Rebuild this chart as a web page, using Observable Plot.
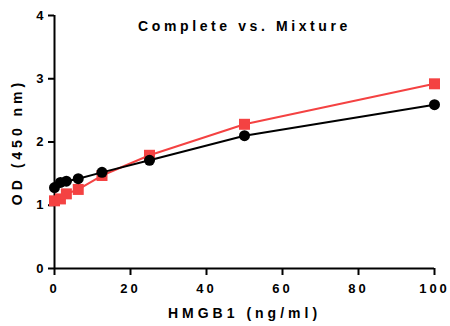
<!DOCTYPE html>
<html>
<head>
<meta charset="utf-8">
<script src="https://cdn.jsdelivr.net/npm/d3@7"></script>
<script src="https://cdn.jsdelivr.net/npm/@observablehq/plot@0.6"></script>
<style>
body { margin: 0; background: #fff; }
svg text { font-family: "Liberation Sans", Arial, sans-serif !important; font-weight: bold; letter-spacing: 4px; font-size: 14px !important; }
svg g[aria-label$="tick label"] text { font-size: 13px !important; letter-spacing: 3px; }
svg g[aria-label="text"] text { letter-spacing: 3.6px; }
</style>
</head>
<body>
<div id="chart"></div>
<script>
const concentrations = [0, 1.5625, 3.125, 6.25, 12.5, 25, 50, 100];
const completeOD = [1.28, 1.36, 1.38, 1.42, 1.52, 1.71, 2.10, 2.59];
const mixtureOD = [1.07, 1.10, 1.18, 1.25, 1.47, 1.79, 2.28, 2.92];
const xTicks = [0, 20, 40, 60, 80, 100];
const yTicks = [0, 1, 2, 3, 4];
const title = "Complete vs. Mixture";

const complete = concentrations.map((x, i) => ({x, y: completeOD[i]}));
const mixture = concentrations.map((x, i) => ({x, y: mixtureOD[i]}));
const red = "#f44242";

const chart = Plot.plot({
  width: 450,
  height: 326,
  marginLeft: 54,
  marginRight: 16,
  marginTop: 15,
  marginBottom: 58,
  style: {background: "#fff", color: "#000"},
  x: {domain: [0, 100]},
  y: {domain: [0, 4]},
  marks: [
    Plot.axisX({ticks: xTicks, tickFormat: d3.format("d"), tickSize: 7, tickPadding: 8, strokeWidth: 2,
      label: "HMGB1 (ng/ml)", labelAnchor: "center", labelOffset: 49, labelArrow: false}),
    Plot.axisY({ticks: yTicks, tickFormat: d3.format("d"), tickSize: 6, tickPadding: 2, strokeWidth: 2,
      label: "OD (450 nm)", labelAnchor: "center", labelOffset: 42, labelArrow: false}),
    Plot.ruleY([0], {strokeWidth: 2}),
    Plot.ruleX([0], {strokeWidth: 2}),
    Plot.line(mixture, {x: "x", y: "y", stroke: red, strokeWidth: 2}),
    Plot.dot(mixture, {x: "x", y: "y", symbol: "square", r: 6.2, fill: red, stroke: "none"}),
    Plot.line(complete, {x: "x", y: "y", stroke: "#000", strokeWidth: 2}),
    Plot.dot(complete, {x: "x", y: "y", symbol: "circle", r: 5.5, fill: "#000", stroke: "none"}),
    Plot.text([title], {frameAnchor: "top", dy: 6, fill: "#000"})
  ]
});
document.getElementById("chart").appendChild(chart);
</script>
</body>
</html>
